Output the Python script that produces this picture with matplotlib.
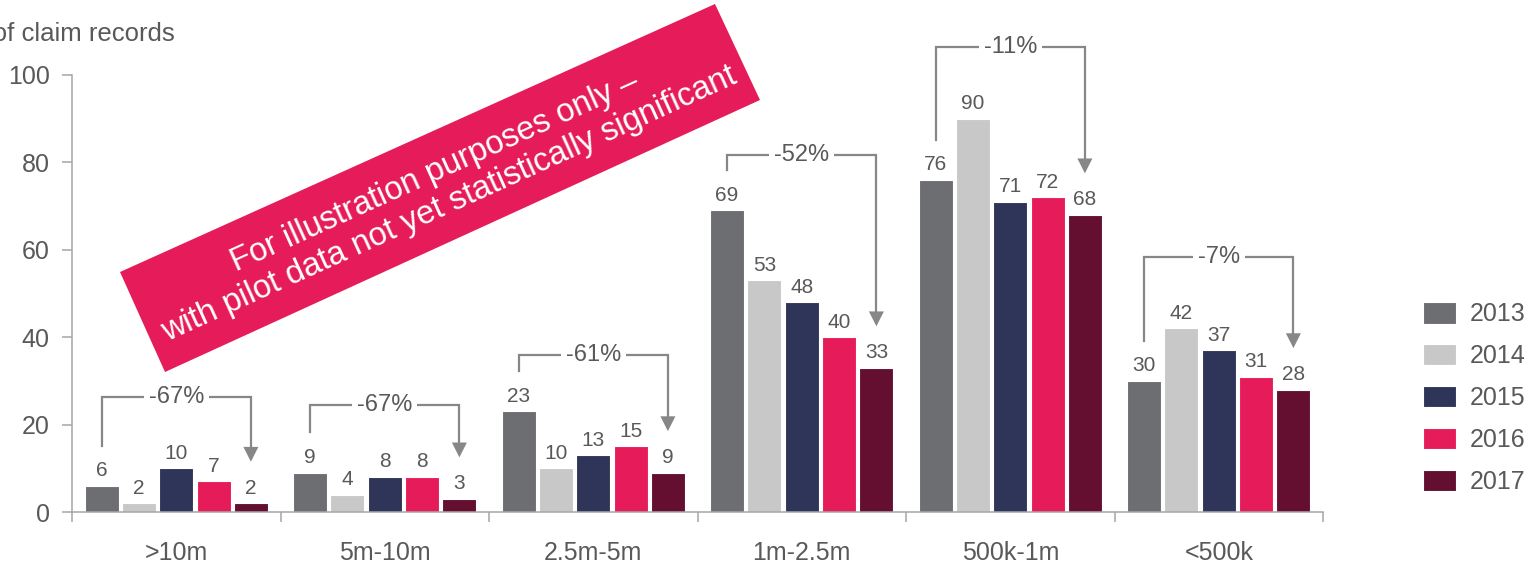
import numpy as np
import matplotlib.pyplot as plt
import matplotlib.transforms as mtransforms
from matplotlib.patches import Polygon, Patch

plt.rcParams['font.family'] = ['Liberation Sans', 'DejaVu Sans']

# data
categories = ['>10m', '5m-10m', '2.5m-5m', '1m-2.5m', '500k-1m', '<500k']
years = ['2013', '2014', '2015', '2016', '2017']
v2013 = [6, 9, 23, 69, 76, 30]
v2014 = [2, 4, 10, 53, 90, 42]
v2015 = [10, 8, 13, 48, 71, 37]
v2016 = [7, 8, 15, 40, 72, 31]
v2017 = [2, 3, 9, 33, 68, 28]
series = [v2013, v2014, v2015, v2016, v2017]
pct_change = ['-67%', '-67%', '-61%', '-52%', '-11%', '-7%']
bracket_top = [26.3, 24.5, 35.9, 81.7, 106.4, 58.4]

colors = ['#6d6e72', '#c8c8c8', '#2e3558', '#e61c5a', '#640f30']
txt_col = '#595959'
line_col = '#878787'
axis_col = '#a6a6a6'
narrow = ['Liberation Sans Narrow', 'Liberation Sans', 'DejaVu Sans']

W, H = 1533, 565
fig = plt.figure(figsize=(W / 100, H / 100), dpi=100)
ax = fig.add_axes([72 / W, 1 - 512 / H, (1323 - 72) / W, (512 - 75) / H])

pitch = 0.179
width = 0.163
x = np.arange(len(categories)) + 0.5
for i, (yr, vals) in enumerate(zip(years, series)):
    xs = x + (i - 2) * pitch
    ax.bar(xs, vals, width=width, color=colors[i], edgecolor='white', linewidth=0.8, zorder=2)
    for xx, v in zip(xs, vals):
        ax.annotate(str(v), (xx, v), xytext=(0, 4), textcoords='offset points',
                    ha='center', va='bottom', fontsize=15, color=txt_col, family=narrow)

# change brackets with arrows
head_w = 0.036
head_h = 3.4
for g in range(len(categories)):
    xl = x[g] - 2 * pitch
    xr = x[g] + 2 * pitch
    y0 = series[0][g] + 9.2
    tip = series[-1][g] + 9.5
    top = bracket_top[g]
    ax.plot([xl, xl, xr, xr], [y0, top, top, tip + head_h], color=line_col, lw=1.6,
            clip_on=False, solid_joinstyle='miter', zorder=3)
    ax.fill([xr - head_w, xr + head_w, xr], [tip + head_h, tip + head_h, tip],
            color=line_col, clip_on=False, zorder=3, lw=0)
    ax.text(x[g], top, pct_change[g], ha='center', va='center', fontsize=17,
            color=txt_col, family=narrow, zorder=4,
            bbox=dict(fc='white', ec='none', pad=3.5))

ax.set_xlim(0, len(categories))
ax.set_ylim(0, 100)
ax.set_yticks(range(0, 101, 20))
ax.set_xticks(np.arange(len(categories) + 1))
ax.set_xticklabels([])
ax.set_xticks(x, minor=True)
ax.set_xticklabels(categories, minor=True)
ax.tick_params(axis='x', which='minor', length=0, pad=21, labelsize=18, labelcolor=txt_col)
ax.tick_params(axis='x', which='major', length=7, width=1.1, color=axis_col)
ax.tick_params(axis='y', length=7, width=1.1, color=axis_col, pad=9, labelsize=18,
               labelcolor=txt_col)
for s in ['top', 'right']:
    ax.spines[s].set_visible(False)
for s in ['left', 'bottom']:
    ax.spines[s].set_color(axis_col)
    ax.spines[s].set_linewidth(1.1)

fig.text(175 / W, 1 - 34 / H, 'Number of claim records', ha='right', va='center',
         fontsize=18.5, color=txt_col)

# legend
handles = [Patch(facecolor=c, edgecolor='white', linewidth=0.8) for c in colors]
fig.legend(handles, years, loc='upper left', bbox_to_anchor=(1423 / W, 1 - 302 / H),
           frameon=False, fontsize=18, handlelength=1.32, handleheight=0.95,
           labelspacing=0.7, handletextpad=0.55, borderpad=0, borderaxespad=0,
           labelcolor=txt_col)

# disclaimer banner (pixel coordinates, y from top)
px = mtransforms.Affine2D().scale(1 / W, -1 / H).translate(0, 1) + fig.transFigure
banner = Polygon([(120, 272), (715, 4), (760, 100), (165, 372)], closed=True,
                 facecolor='#e61c5a', edgecolor='none', transform=px, zorder=5)
fig.patches.append(banner)
fig.text(442 / W, 1 - 188 / H,
         'For illustration purposes only \u2013\nwith pilot data not yet statistically significant',
         rotation=24.4, rotation_mode='anchor', ha='center', va='center',
         multialignment='center', fontsize=23.5, color='white', zorder=6)

fig.savefig('out.png', dpi=100)
